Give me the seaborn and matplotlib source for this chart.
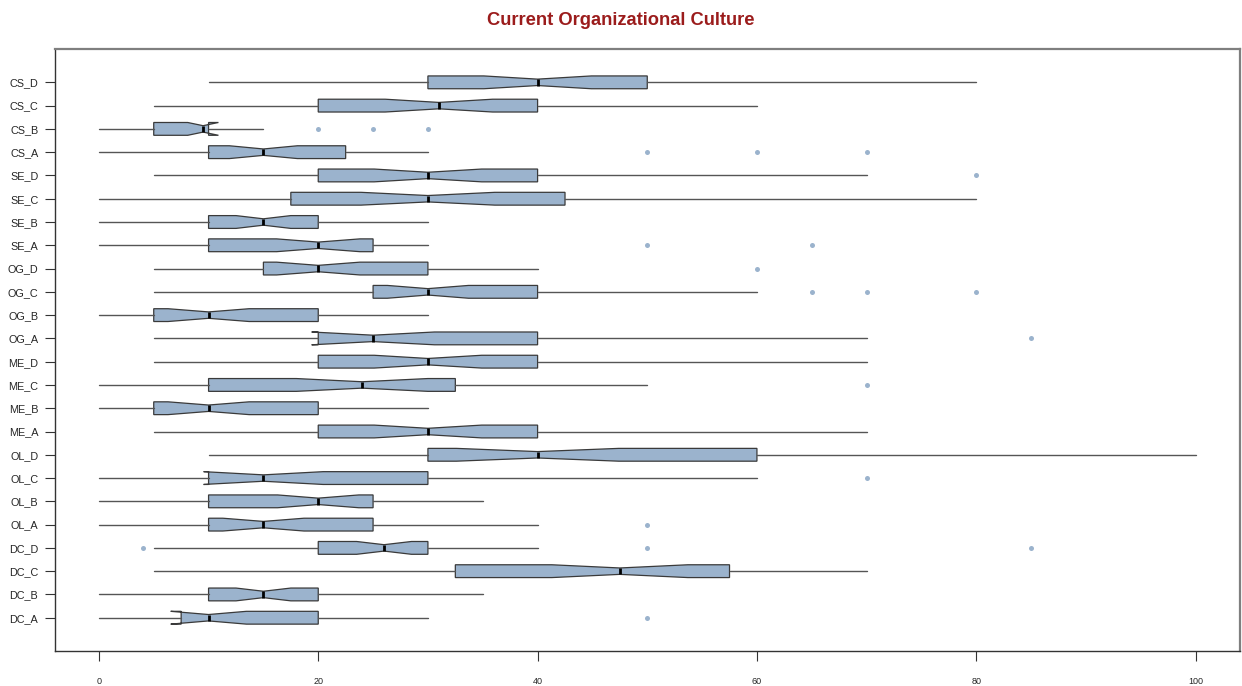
import matplotlib
matplotlib.use("Agg")
import matplotlib.pyplot as plt
import seaborn as sns

# Dimensions, listed top to bottom
categories = ["CS_D", "CS_C", "CS_B", "CS_A",
              "SE_D", "SE_C", "SE_B", "SE_A",
              "OG_D", "OG_C", "OG_B", "OG_A",
              "ME_D", "ME_C", "ME_B", "ME_A",
              "OL_D", "OL_C", "OL_B", "OL_A",
              "DC_D", "DC_C", "DC_B", "DC_A"]

whisker_low = [10, 5, 0, 0, 5, 0, 0, 0, 5, 5, 0, 5,
               5, 0, 0, 5, 10, 0, 0, 0, 5, 5, 0, 0]
q1 = [30, 20, 5, 10, 20, 17.5, 10, 10, 15, 25, 5, 20,
      20, 10, 5, 20, 30, 10, 10, 10, 20, 32.5, 10, 7.5]
median = [40, 31, 9.5, 15, 30, 30, 15, 20, 20, 30, 10, 25,
          30, 24, 10, 30, 40, 15, 20, 15, 26, 47.5, 15, 10]
q3 = [50, 40, 10, 22.5, 40, 42.5, 20, 25, 30, 40, 20, 40,
      40, 32.5, 20, 40, 60, 30, 25, 25, 30, 57.5, 20, 20]
whisker_high = [80, 60, 15, 30, 70, 80, 30, 30, 40, 60, 30, 70,
                70, 50, 30, 70, 100, 60, 35, 40, 40, 70, 35, 30]
notch_half = [4.9, 4.9, 1.4, 3.1, 4.9, 6.1, 2.5, 3.8, 3.8, 3.7, 3.7, 5.6,
              4.9, 6.0, 3.7, 4.9, 7.4, 5.45, 3.7, 3.7, 2.5, 6.2, 2.5, 3.45]
outliers = [[], [], [20, 25, 30], [50, 60, 70],
            [80], [], [], [50, 65],
            [60], [65, 70, 80], [], [85],
            [], [70], [], [],
            [], [70], [], [50],
            [4, 50, 85], [], [], [50]]

sns.set_theme(style="ticks")
plt.rcParams["font.family"] = ["Liberation Sans", "DejaVu Sans"]

fill = "#9bb3cd"

stats = []
for i, name in enumerate(categories):
    stats.append({
        "label": name,
        "whislo": whisker_low[i],
        "q1": q1[i],
        "med": median[i],
        "q3": q3[i],
        "whishi": whisker_high[i],
        "cilo": median[i] - notch_half[i],
        "cihi": median[i] + notch_half[i],
        "fliers": outliers[i],
    })

# bottom-most category sits at position 1
stats = stats[::-1]
positions = list(range(1, len(stats) + 1))

fig = plt.figure(figsize=(12.42, 6.86), dpi=100)
ax = fig.add_axes([0.0443, 0.051, 0.9537, 0.8775])

ax.bxp(stats, positions=positions, vert=False, widths=0.55,
       shownotches=True, showcaps=False, patch_artist=True,
       boxprops=dict(facecolor=fill, edgecolor="#3a3a3a", linewidth=0.9),
       whiskerprops=dict(color="#555555", linewidth=1.0),
       medianprops=dict(color="black", linewidth=2.0, solid_capstyle="butt"),
       flierprops=dict(marker="o", markersize=3.6, markerfacecolor=fill,
                       markeredgecolor="none", linestyle="none"))

ax.set_xlim(-4, 104)
ax.set_ylim(0.5 - 0.93, 24.5 + 0.93)
ax.set_xticks([0, 20, 40, 60, 80, 100])
ax.set_xticklabels(["0", "20", "40", "60", "80", "100"], fontsize=6.5)
ax.set_yticks(positions)
ax.set_yticklabels([s["label"] for s in stats], fontsize=7.8)
ax.tick_params(axis="x", length=7, width=0.8, color="#333333", pad=12)
ax.tick_params(axis="y", length=7, width=0.8, color="#333333", pad=5)
ax.grid(False)

for side in ["left", "bottom"]:
    ax.spines[side].set_color("#333333")
    ax.spines[side].set_linewidth(1.0)
for side in ["top", "right"]:
    ax.spines[side].set_color("#7f7f7f")
    ax.spines[side].set_linewidth(1.6)

fig.suptitle("Current Organizational Culture", y=0.982, fontsize=13.2,
             fontweight="bold", color="#9b1c1c")

fig.savefig("out.png", dpi=100, facecolor="white")
